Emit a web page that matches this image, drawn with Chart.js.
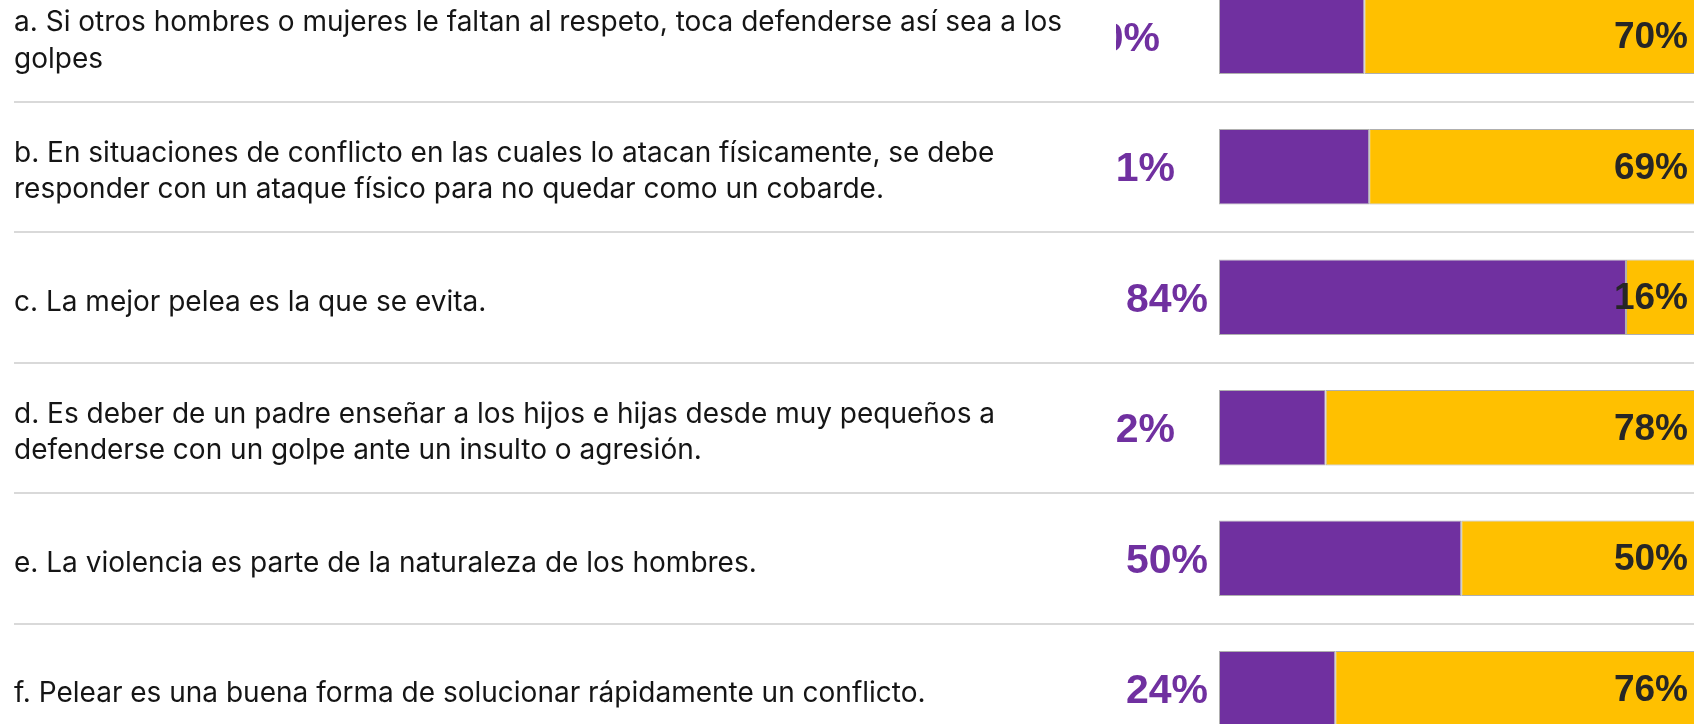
<!DOCTYPE html>
<html>
<head>
<meta charset="utf-8">
<script src="https://cdn.jsdelivr.net/npm/chart.js@4/dist/chart.umd.min.js"></script>
<style>
  html, body { margin: 0; padding: 0; background: #fff; overflow: hidden; width: 1694px; height: 724px; }
  #c { position: absolute; left: 0; top: -29px; }
</style>
</head>
<body>
<canvas id="c" width="1720" height="783"></canvas>
<script>
// ---- data ----
const categories = [
  ["a. Si otros hombres o mujeres le faltan al respeto, toca defenderse así sea a los", "golpes"],
  ["b. En situaciones de conflicto en las cuales lo atacan físicamente, se debe", "responder con un ataque físico para no quedar como un cobarde."],
  "c. La mejor pelea es la que se evita.",
  ["d. Es deber de un padre enseñar a los hijos e hijas desde muy pequeños a", "defenderse con un golpe ante un insulto o agresión."],
  "e. La violencia es parte de la naturaleza de los hombres.",
  "f. Pelear es una buena forma de solucionar rápidamente un conflicto."
];
const purpleValues = [30, 31, 84, 22, 50, 24];
const yellowValues = [70, 69, 16, 78, 50, 76];

// ---- style ----
const PURPLE = '#7030A0';
const YELLOW = '#FFC000';
const purpleLabelShift = [48, 33, 0, 33, 0, 0];

const valueLabels = {
  id: 'valueLabels',
  afterDatasetsDraw(chart) {
    const ctx = chart.ctx, area = chart.chartArea;
    const m0 = chart.getDatasetMeta(0), m1 = chart.getDatasetMeta(1);
    ctx.save();
    ctx.beginPath();
    ctx.rect(area.left - 103, 0, chart.width, chart.height);
    ctx.clip();
    ctx.font = 'bold 41px "Liberation Sans", Arial, sans-serif';
    ctx.fillStyle = PURPLE;
    ctx.textAlign = 'right';
    ctx.textBaseline = 'middle';
    m0.data.forEach((bar, i) => {
      const p = bar.getProps(['x', 'y', 'base'], true);
      ctx.fillText(purpleValues[i] + '%', Math.min(p.base, p.x) - 11 - purpleLabelShift[i], p.y + 3);
    });
    ctx.font = 'bold 37px "Liberation Sans", Arial, sans-serif';
    ctx.fillStyle = '#262626';
    m1.data.forEach((bar, i) => {
      const p = bar.getProps(['y'], true);
      ctx.fillText(yellowValues[i] + '%', area.right - 15.5, p.y + 2);
    });
    ctx.restore();
  }
};

new Chart(document.getElementById('c'), {
  type: 'bar',
  data: {
    labels: categories,
    datasets: [
      { data: purpleValues, backgroundColor: PURPLE, borderColor: 'rgba(110,110,110,0.55)', borderWidth: 1, borderSkipped: false },
      { data: yellowValues, backgroundColor: YELLOW, borderColor: 'rgba(110,110,110,0.55)', borderWidth: 1, borderSkipped: false }
    ]
  },
  options: {
    indexAxis: 'y',
    responsive: false,
    animation: false,
    devicePixelRatio: 1,
    layout: { padding: { left: 14, right: 16.5, top: 0, bottom: 0 } },
    datasets: { bar: { barPercentage: 0.58, categoryPercentage: 1 } },
    plugins: { legend: { display: false }, tooltip: { enabled: false } },
    scales: {
      x: { display: false, stacked: true, min: 0, max: 100 },
      y: {
        stacked: true,
        border: { display: false },
        grid: { offset: true, color: '#d9d9d9', lineWidth: 2, tickLength: 1205, drawOnChartArea: true },
        ticks: {
          crossAlign: 'far',
          color: '#151515',
          font: { family: 'Inter', size: 28, lineHeight: 1.3 },
          padding: 0,
          labelOffset: 5
        },
        afterFit(scale) {
          scale.width = 1205;
          scale.paddingTop = 0;
          scale.paddingBottom = 0;
        }
      }
    }
  },
  plugins: [valueLabels]
});
</script>
</body>
</html>
